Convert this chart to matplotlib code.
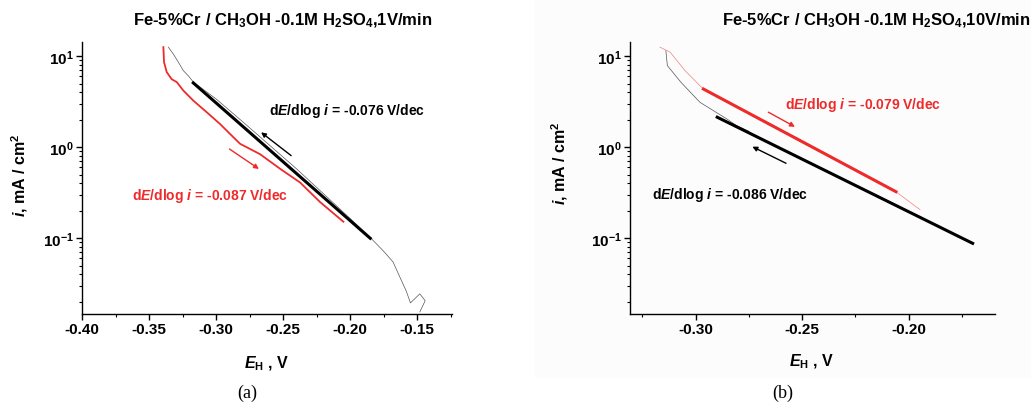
import matplotlib
matplotlib.use("Agg")
import matplotlib.pyplot as plt
from matplotlib.patches import Rectangle
from matplotlib.ticker import MultipleLocator, LogLocator, NullFormatter

plt.rcParams["font.family"] = ["Liberation Sans", "DejaVu Sans"]
plt.rcParams["font.weight"] = "bold"
plt.rcParams["mathtext.fontset"] = "custom"
plt.rcParams["mathtext.rm"] = "Liberation Sans:bold"
plt.rcParams["mathtext.bf"] = "Liberation Sans:bold"
plt.rcParams["mathtext.it"] = "Liberation Sans:bold:italic"
plt.rcParams["mathtext.default"] = "rm"

# ---- panel (a): 1 V/min ----
a_raw_E = [-0.3356, -0.3319, -0.3281, -0.3244, -0.3207, -0.3169, -0.300, -0.280,
           -0.260, -0.240, -0.220, -0.200, -0.185, -0.175, -0.168, -0.158,
           -0.155, -0.148, -0.144, -0.148]
a_raw_i = [12.6, 10.6, 8.6, 6.95, 6.1, 5.2, 3.4, 1.9,
           1.05, 0.58, 0.31, 0.165, 0.102, 0.072, 0.055, 0.026,
           0.0195, 0.0245, 0.0206, 0.0155]
a_red_E = [-0.3393, -0.3388, -0.3368, -0.3331, -0.3293, -0.3244, -0.3169, -0.307,
           -0.297, -0.2871, -0.282, -0.2672, -0.2522, -0.2373, -0.2224, -0.205]
a_red_i = [12.6, 8.6, 6.7, 5.6, 5.2, 4.2, 3.25, 2.43,
           1.8, 1.29, 1.09, 0.84, 0.58, 0.41, 0.25, 0.152]
a_fit_E = [-0.317, -0.185]
a_fit_i = [5.1, 0.10]
a_arrow_black = [(-0.244, 0.81), (-0.2664, 1.46)]   # tail, head
a_arrow_red = [(-0.290, 0.957), (-0.268, 0.578)]

# ---- panel (b): 10 V/min ----
b_black_E = [-0.314, -0.3133, -0.307, -0.298, -0.2854, -0.2808, -0.275]
b_black_i = [11.5, 7.9, 5.2, 3.12, 2.05, 1.73, 1.5]
b_red_E = [-0.3168, -0.312, -0.305, -0.298, -0.2964, -0.250, -0.206, -0.1947]
b_red_i = [12.6, 11.1, 6.95, 4.75, 4.4, 1.18, 0.325, 0.206]
b_fit_red_E = [-0.2964, -0.206]
b_fit_red_i = [4.37, 0.325]
b_fit_black_E = [-0.2899, -0.170]
b_fit_black_i = [2.14, 0.088]
b_arrow_red = [(-0.2659, 2.43), (-0.2534, 1.68)]
b_arrow_black = [(-0.2576, 0.667), (-0.2734, 1.015)]

RED = "#ee2a2a"
W, H = 1031, 406

fig = plt.figure(figsize=(W / 100, H / 100), dpi=100)
fig.patches.append(Rectangle((535 / W, 28 / H), 1 - 535 / W, 1 - 28 / H,
                             transform=fig.transFigure, color="#fcfcfc", zorder=-10))


def px(x, y):
    return x / W, 1 - y / H


def style_axes(ax, xlim, xticks):
    ax.set_yscale("log")
    ax.set_xlim(*xlim)
    ax.set_ylim(0.01472, 14.35)
    ax.set_facecolor("none")
    for s in ["top", "right"]:
        ax.spines[s].set_visible(False)
    for s in ["left", "bottom"]:
        ax.spines[s].set_linewidth(1.0)
    ax.set_xticks(xticks)
    ax.set_xticklabels([f"{t:.2f}" for t in xticks])
    ax.xaxis.set_minor_locator(MultipleLocator(0.025))
    ax.set_yticks([0.1, 1, 10])
    ax.set_yticklabels([r"$10^{-1}$", r"$10^{0}$", r"$10^{1}$"])
    ax.yaxis.set_minor_locator(LogLocator(base=10, subs=range(2, 10)))
    ax.yaxis.set_minor_formatter(NullFormatter())
    ax.tick_params(which="major", direction="out", length=4, width=1.0,
                   labelsize=11, pad=2)
    ax.tick_params(which="minor", direction="out", length=2.5, width=0.8)
    for lab in ax.get_xticklabels() + ax.get_yticklabels():
        lab.set_fontweight("bold")


def arrow(ax, pts, color):
    (x0, y0), (x1, y1) = pts
    ax.annotate("", xy=(x1, y1), xytext=(x0, y0),
                arrowprops=dict(arrowstyle="-|>", color=color, lw=1.0,
                                mutation_scale=7, shrinkA=0, shrinkB=0))


# panel (a)
axa = fig.add_axes([82 / W, 1 - 315 / H, (452 - 82) / W, (315 - 43) / H])
style_axes(axa, (-0.40, -0.124), [-0.40, -0.35, -0.30, -0.25, -0.20, -0.15])
axa.plot(a_raw_E, a_raw_i, color="#555555", lw=0.5)
axa.plot(a_red_E, a_red_i, color=RED, lw=1.3)
axa.plot(a_fit_E, a_fit_i, color="black", lw=2.2)
arrow(axa, a_arrow_black, "black")
arrow(axa, a_arrow_red, RED)

# panel (b)
axb = fig.add_axes([630.3 / W, 1 - 315 / H, (995 - 630.3) / W, (315 - 43) / H])
style_axes(axb, (-0.3307, -0.1595), [-0.30, -0.25, -0.20])
axb.plot(b_red_E, b_red_i, color="#f08080", lw=0.5)
axb.plot(b_black_E, b_black_i, color="#555555", lw=0.5)
axb.plot(b_fit_red_E, b_fit_red_i, color=RED, lw=2.2)
axb.plot(b_fit_black_E, b_fit_black_i, color="black", lw=2.2)
arrow(axb, b_arrow_red, RED)
arrow(axb, b_arrow_black, "black")

fig.text(*px(133, 21), r"Fe-5%Cr / CH$_3$OH -0.1M H$_2$SO$_4$,1V/min",
         fontsize=12, fontweight="bold", va="center", ha="left")
fig.text(*px(722, 21), r"Fe-5%Cr / CH$_3$OH -0.1M H$_2$SO$_4$,10V/min",
         fontsize=12, fontweight="bold", va="center", ha="left")

fs = 10
fig.text(*px(269, 111), r"d$\mathit{E}$/dlog $\mathit{i}$ = -0.076 V/dec",
         fontsize=fs, fontweight="bold", va="center", ha="left", color="black")
fig.text(*px(132, 196), r"d$\mathit{E}$/dlog $\mathit{i}$ = -0.087 V/dec",
         fontsize=fs, fontweight="bold", va="center", ha="left", color=RED)
fig.text(*px(785, 105), r"d$\mathit{E}$/dlog $\mathit{i}$ = -0.079 V/dec",
         fontsize=fs, fontweight="bold", va="center", ha="left", color=RED)
fig.text(*px(652, 195), r"d$\mathit{E}$/dlog $\mathit{i}$ = -0.086 V/dec",
         fontsize=fs, fontweight="bold", va="center", ha="left", color="black")

ylab = r"$\mathit{i}$, mA / cm$^2$"
fig.text(*px(20, 175), ylab, rotation=90, fontsize=11.5, fontweight="bold",
         va="center", ha="center")
fig.text(*px(560, 163), ylab, rotation=90, fontsize=11.5, fontweight="bold",
         va="center", ha="center")

xlab = r"$\mathit{E}_{\rm H}$ , V"
fig.text(*px(267, 364), xlab, fontsize=11.5, fontweight="bold", va="center", ha="center")
fig.text(*px(812, 362), xlab, fontsize=11.5, fontweight="bold", va="center", ha="center")

fig.text(*px(247, 393), "(a)", family="Liberation Serif", fontweight="normal",
         fontsize=13, va="center", ha="center")
fig.text(*px(783, 393), "(b)", family="Liberation Serif", fontweight="normal",
         fontsize=13, va="center", ha="center")

fig.savefig("out.png", dpi=100, facecolor="white")
